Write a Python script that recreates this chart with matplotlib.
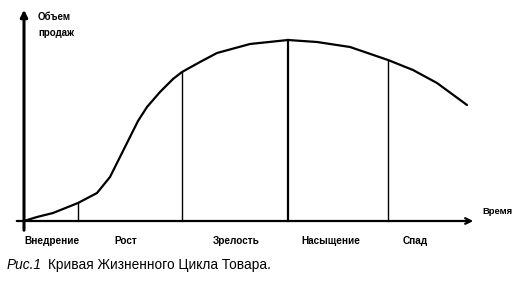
import matplotlib
matplotlib.use("Agg")
import matplotlib.pyplot as plt

# product life cycle curve (time, sales volume) in arbitrary units
time = [0, 13, 29, 54, 73, 86, 96, 106, 114, 123, 136, 149, 158, 176, 193, 226, 264, 293, 326, 364, 389, 413, 443]
volume = [0, 4, 8, 18, 28, 44, 64, 84, 100, 114, 129, 142, 149, 159, 168, 177, 181, 179, 174, 161, 151, 138, 116]
boundaries = [54, 158, 264, 364]
boundary_vol = [18, 149, 181, 161]
stages = ["Внедрение", "Рост", "Зрелость", "Насыщение", "Спад"]
stage_pos = [28, 102, 212, 307, 391]

plt.rcParams['font.family'] = ['Liberation Sans', 'DejaVu Sans']

fig = plt.figure(figsize=(5.16, 2.89), dpi=100)
ax = fig.add_axes([0, 0, 1, 1])
ax.set_xlim(-24, 492)
ax.set_ylim(-68, 221)
ax.axis("off")

ax.plot(time, volume, color="black", lw=1.6, solid_capstyle="round", solid_joinstyle="round")
for b, v in zip(boundaries, boundary_vol):
    ax.plot([b, b], [0, v], color="black", lw=1.0 if b != 264 else 1.6)

# axes with arrows
ax.annotate("", xy=(0, 214), xytext=(0, -12),
            arrowprops=dict(arrowstyle="-|>", color="black", lw=2.2, mutation_scale=10))
ax.annotate("", xy=(452, 0), xytext=(-10, 0),
            arrowprops=dict(arrowstyle="->", color="black", lw=1.6, mutation_scale=10))

ax.text(14, 204, "Объем", fontsize=7, fontweight="bold", va="center", ha="left")
ax.text(14, 188, "продаж", fontsize=7, fontweight="bold", va="center", ha="left")
ax.text(458, 10, "Время", fontsize=6.8, fontweight="bold", va="center", ha="left")

for s, p in zip(stages, stage_pos):
    ax.text(p, -20, s, fontsize=7.2, fontweight="bold", va="center", ha="center")

ax.text(-17, -44, "Рис.1", fontsize=9.8, style="italic", va="center", ha="left")
ax.text(24, -44, "Кривая Жизненного Цикла Товара.", fontsize=9.8, va="center", ha="left")

fig.savefig("out.png", dpi=100, facecolor="white")
